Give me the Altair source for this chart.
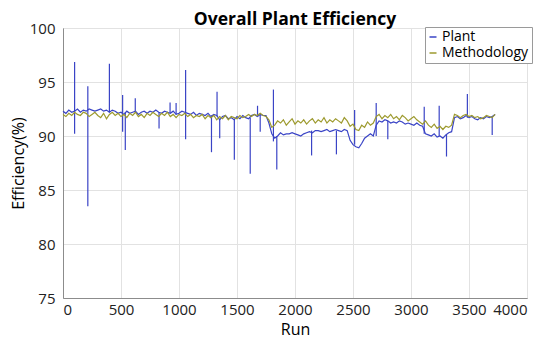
import altair as alt
import pandas as pd

runs = list(range(0, 3726, 25))

plant = [
    92.3, 92.1, 92.4, 92.2, 92.3, 92.5, 92.2, 92.4, 92.3, 92.5,
    92.4, 92.3, 92.4, 92.5, 92.3, 92.4, 92.2, 92.4, 92.3, 92.1,
    92.2, 92.0, 92.3, 92.1, 92.2, 92.3, 92.0, 92.2, 92.3, 92.1,
    92.3, 92.2, 92.4, 92.2, 92.1, 92.3, 92.2, 92.1, 92.3, 92.0,
    92.1, 92.3, 92.2, 92.1, 92.0, 92.2, 91.9, 92.1, 92.0, 91.9,
    92.1, 91.8, 92.0, 91.9, 91.5, 91.8, 91.9, 91.6, 91.7, 91.5,
    91.8, 91.6, 91.9, 91.7, 91.6, 91.9, 92.0, 91.8, 92.0, 91.9,
    91.9, 91.2, 90.2, 89.8, 90.0, 90.3, 90.1, 90.2, 90.2, 90.3,
    90.2, 90.1, 90.0, 90.2, 90.3, 90.4, 90.3, 90.5, 90.5, 90.4,
    90.5, 90.6, 90.4, 90.5, 90.6, 90.5, 90.4, 90.6, 90.5, 89.6,
    89.2, 89.0, 88.9, 89.3, 89.8, 90.0, 90.2, 90.0, 91.0, 91.4,
    91.3, 91.5, 91.4, 91.2, 91.3, 91.2, 91.4, 91.3, 91.1, 91.2,
    91.1, 91.0, 91.2, 91.0, 90.9, 90.2, 90.1, 90.0, 90.2, 89.9,
    90.0, 89.8, 90.1, 90.3, 90.4, 91.7, 91.8, 91.6, 91.7, 91.9,
    91.7, 91.8, 91.6, 91.5, 91.7, 91.6, 91.8, 91.7, 91.8, 92.0,
]

methodology = [
    92.0, 91.8, 92.1, 91.9, 92.2, 92.0, 91.9, 92.2, 92.1, 91.8,
    92.0, 92.2, 91.9, 91.7, 92.1, 91.6, 92.0, 92.2, 91.9, 92.1,
    91.8, 92.0, 91.7, 92.1, 91.9, 92.2, 91.8, 92.0, 91.7, 92.1,
    91.9, 92.2, 92.0, 91.8, 92.1, 91.9, 92.2, 91.8, 92.0, 91.7,
    92.0, 91.9, 92.1, 91.8, 92.0, 91.7, 91.9, 91.8, 92.0, 91.6,
    91.9, 91.7, 91.9, 91.5, 91.8, 91.6, 91.9, 91.5, 91.8, 91.7,
    91.6, 91.9, 91.7, 91.8, 92.0, 91.8, 92.0, 91.9, 92.1, 91.9,
    91.8, 91.5, 90.8, 91.0, 91.4, 91.2, 91.5, 91.0, 91.3, 91.6,
    91.1, 91.4, 91.2, 91.5, 91.1, 91.4, 91.6, 91.2, 91.5, 91.3,
    91.7, 91.2, 91.5, 91.3, 91.6, 91.4, 91.2, 91.7, 91.4, 90.9,
    91.1, 90.6, 90.5, 91.0, 90.8, 91.3, 91.0, 91.2, 91.8, 92.0,
    91.6, 91.9, 91.7, 92.0, 91.6, 91.8, 91.5, 91.9, 91.7, 91.4,
    91.6, 91.8, 91.5, 91.3, 91.1, 91.4, 91.0, 90.8, 91.1, 90.7,
    90.9, 90.6, 90.9, 90.8, 91.0, 92.0, 91.9, 91.7, 91.9, 92.0,
    91.8, 91.9, 91.7, 91.8, 91.6, 91.7, 91.9, 91.8, 91.7, 92.0,
]

# spikes of the Plant series (run, low end, high end)
spike_runs = [100, 214, 400, 514, 537, 623, 828, 923, 975, 1057, 1280, 1328,
              1351, 1477, 1614, 1677, 1700, 1814, 1843, 2143, 2357, 2514,
              2700, 2800, 3114, 3243, 3306, 3486, 3700]
spike_lo = [90.2, 83.5, 92.2, 90.4, 88.7, 92.2, 90.7, 92.1, 92.0, 89.7, 88.5, 91.8,
            89.8, 87.8, 86.5, 91.8, 90.4, 89.5, 86.9, 88.2, 88.3, 89.2,
            90.0, 89.7, 90.2, 90.0, 88.1, 91.7, 90.1]
spike_hi = [96.85, 94.6, 96.7, 93.8, 92.2, 93.5, 92.2, 93.1, 93.05, 96.1, 91.9, 94.1,
            91.6, 91.6, 91.7, 92.8, 92.0, 94.3, 90.0, 90.5, 90.5, 92.4,
            93.05, 91.4, 92.7, 92.8, 90.1, 93.9, 91.8]

series_names = ["Plant", "Methodology"]
colors = ["#3a44c6", "#9d9a2e"]
x_ticks = [0, 500, 1000, 1500, 2000, 2500, 3000, 3500, 4000]
y_ticks = [75, 80, 85, 90, 95, 100]

FONT = "Open Sans"

df_plant = pd.DataFrame({"Run": runs, "Eff": plant, "Series": "Plant"})
df_meth = pd.DataFrame({"Run": runs, "Eff": methodology, "Series": "Methodology"})
df_spk = pd.DataFrame({"Run": spike_runs, "lo": spike_lo, "hi": spike_hi})

xscale = alt.Scale(domain=[0, 4000], nice=False)
yscale = alt.Scale(domain=[75, 100], nice=False)
cscale = alt.Scale(domain=series_names, range=colors)

xenc = alt.X("Run:Q", scale=xscale,
             axis=alt.Axis(values=x_ticks, title="Run", format="d"))
yenc = alt.Y("Eff:Q", scale=yscale,
             axis=alt.Axis(values=y_ticks, title="Efficiency(%)"))

legend = alt.Legend(
    title=None, orient="none", legendX=362, legendY=-1,
    symbolType="stroke", symbolSize=49, symbolStrokeWidth=1.5,
    labelFontSize=14, labelFont=FONT, labelColor="black",
    fillColor="white", strokeColor="#9a9a9a", padding=3,
    rowPadding=2, labelOffset=2, symbolOffset=-2,
)

plant_line = alt.Chart(df_plant).mark_line(strokeWidth=1.2).encode(
    x=xenc, y=yenc,
    color=alt.Color("Series:N", scale=cscale, legend=legend),
)
spikes = alt.Chart(df_spk).mark_rule(strokeWidth=1.2, color=colors[0]).encode(
    x=alt.X("Run:Q", scale=xscale),
    y=alt.Y("lo:Q", scale=yscale),
    y2="hi:Q",
)
meth_line = alt.Chart(df_meth).mark_line(strokeWidth=1.2).encode(
    x=xenc, y=yenc,
    color=alt.Color("Series:N", scale=cscale, legend=legend),
)

chart = alt.layer(spikes, plant_line, meth_line).properties(
    width=464, height=270,
    title=alt.TitleParams("Overall Plant Efficiency", fontSize=17.5, font=FONT,
                          fontWeight="bold", color="black", anchor="middle",
                          frame="group", offset=-7),
    autosize=alt.AutoSizeParams(type="none"),
    padding={"left": 55, "top": 20, "right": 15, "bottom": 46},
).configure_view(
    stroke="#8c8c8c", strokeWidth=1,
).configure_axis(
    grid=True, gridColor="#e2e2e2", gridWidth=1,
    domainColor="#8c8c8c", ticks=False, tickSize=0,
    labelFont=FONT, labelFontSize=15, labelColor="#222222",
    titleFont=FONT, titleFontSize=16, titleFontWeight="normal", titleColor="black",
).configure_axisX(
    labelPadding=4, titlePadding=4,
).configure_axisY(
    labelPadding=8, titlePadding=3,
)

chart.save("out.html", embed_options={"renderer": "svg", "actions": False})
